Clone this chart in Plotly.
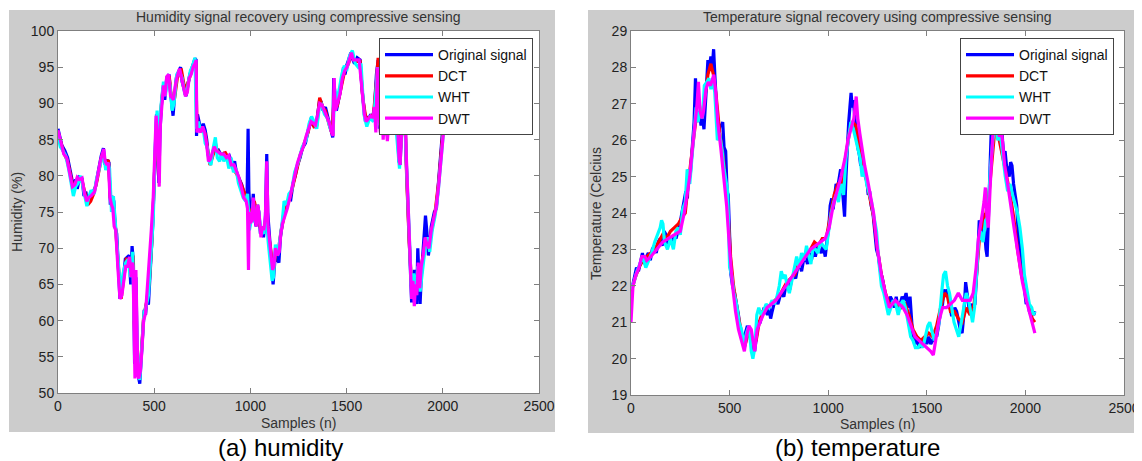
import plotly.graph_objects as go

# ---------------- Humidity data ----------------
hum_orig_x = [0,10,20,35,50,65,80,92,100,112,125,135,145,152,165,180,195,205,215,225,236,245,255,265,272,280,290,297,305,315,322,330,340,350,360,370,378,385,392,398,405,412,420,425,432,440,448,455,462,470,478,485,492,500,506,512,518,524,530,538,548,555,565,577,585,592,598,606,615,625,637,645,655,665,675,685,695,705,712,718,720,725,735,745,755,765,773,780,790,800,810,818,825,835,845,855,865,878,890,900,910,918,925,935,945,955,965,975,982,988,992,1000,1008,1015,1022,1030,1037,1044,1052,1060,1068,1078,1085,1090,1097,1105,1112,1118,1125,1132,1140,1148,1156,1163,1172,1182,1191,1200,1210,1222,1233,1245,1258,1270,1286,1298,1308,1316,1325,1335,1343,1352,1360,1368,1378,1390,1400,1409,1418,1428,1433,1440,1447,1456,1466,1475,1484,1492,1500,1510,1522,1530,1541,1555,1570,1580,1590,1598,1608,1617,1625,1635,1645,1655,1664,1670,1675,1682,1690,1697,1705,1712,1718,1725,1735,1745,1755,1765,1772,1778,1785,1793,1802,1810,1818,1825,1832,1838,1845,1852,1858,1864,1870,1876,1882,1888,1895,1902,1910,1918,1925,1932,1940,1948,1956,1967,1975,1982,1992,2001,2010,2020,2030,2040,2048]
hum_orig_y = [86.5,85.5,84.2,83.5,82.5,80.5,78.5,79.5,78.2,79.8,79.6,77.2,77.8,76.3,77.3,77.6,78.5,80.0,81.5,82.8,83.8,81.5,82.2,81.8,76.0,77.2,76.5,73.0,72.0,67.0,63.0,64.5,66.0,68.5,68.7,69.0,65.0,70.3,68.0,54.0,66.0,55.0,52.0,51.3,54.5,58.5,61.5,60.8,63.0,62.2,66.0,70.0,73.0,79.0,85.0,88.5,84.0,79.0,86.0,90.0,92.5,90.5,93.5,94.0,91.5,89.5,88.3,91.0,93.5,94.3,95.0,93.0,92.0,91.0,92.5,94.0,94.8,95.5,96.2,96.0,85.5,88.5,87.0,86.0,87.2,86.3,85.0,83.0,81.8,82.5,83.8,84.6,83.2,83.5,83.0,82.8,83.2,82.5,82.8,82.0,81.3,82.0,80.8,80.0,79.5,78.8,77.8,77.0,76.2,86.5,78.0,73.5,75.0,77.5,74.0,73.0,76.0,75.0,72.0,73.0,71.5,74.0,83.0,75.0,72.0,69.0,67.0,65.0,68.0,70.0,68.5,68.0,71.5,73.0,74.5,75.0,75.8,77.0,76.8,79.0,80.0,81.5,82.5,83.8,84.5,86.0,87.0,88.0,87.0,86.8,87.2,89.0,90.5,90.2,89.0,89.5,88.3,87.5,86.5,85.3,93.5,89.5,89.0,90.0,91.5,93.0,95.0,94.0,95.2,96.0,97.0,96.2,95.5,96.3,96.0,92.0,89.0,87.5,88.2,87.8,88.5,88.0,89.5,94.0,96.0,86.5,90.0,88.0,86.0,88.5,89.0,85.5,87.0,90.0,89.0,90.5,90.0,86.0,82.0,81.5,86.0,88.0,90.0,82.0,76.0,72.0,66.0,62.5,65.0,67.0,63.5,62.3,70.0,66.0,62.3,66.0,69.0,71.0,74.5,72.0,69.0,70.5,73.0,74.0,75.0,75.5,78.0,80.0,84.0,87.0,87.5,88.5,88.0,87.2,87.0]

hum_dct_x = [0,15,30,50,70,82,95,110,125,140,155,170,185,200,215,230,240,250,262,272,285,300,318,328,340,355,372,382,390,400,410,422,432,445,460,475,488,500,510,520,530,545,560,578,592,605,620,640,660,680,700,716,722,735,750,765,780,790,805,820,835,850,870,890,910,930,950,970,985,995,1010,1020,1035,1050,1065,1080,1090,1105,1118,1130,1145,1160,1180,1200,1220,1240,1260,1280,1300,1315,1330,1345,1360,1375,1390,1410,1425,1435,1450,1470,1490,1510,1525,1545,1570,1585,1600,1620,1640,1655,1664,1672,1690,1710,1730,1750,1765,1778,1790,1802,1812,1825,1840,1855,1868,1880,1895,1910,1925,1940,1960,1980,2000,2015,2030,2048]
hum_dct_y = [86.0,84.5,83.2,82.0,79.5,78.0,79.2,79.5,79.3,77.5,76.0,76.5,77.5,79.0,81.0,83.0,82.5,81.5,82.2,77.0,76.5,72.5,66.0,63.0,65.5,68.5,68.5,67.5,69.0,56.0,53.0,52.5,55.0,60.5,62.5,65.5,71.0,78.5,86.0,82.0,87.5,92.0,92.5,93.8,90.0,90.5,93.5,94.8,91.8,93.2,95.0,95.5,87.0,86.8,86.5,85.8,83.0,81.5,82.8,84.0,83.2,83.0,83.2,82.3,81.0,80.2,79.0,77.5,76.5,74.5,75.5,76.5,74.5,73.0,72.5,73.0,72.5,70.0,66.5,69.0,69.5,72.5,75.0,76.5,78.5,81.0,83.0,84.5,86.0,87.8,86.8,87.0,90.8,89.5,89.0,87.0,85.8,91.0,89.5,92.0,94.5,95.5,96.8,95.8,95.8,90.5,88.0,88.0,88.5,93.0,96.3,88.0,87.5,87.0,89.0,90.0,87.0,83.0,87.0,89.5,80.0,71.0,64.0,66.0,64.5,66.0,68.5,71.0,70.0,72.0,75.0,79.5,86.0,87.5,88.0,87.3]

hum_wht_x = [0,12,25,40,55,68,80,92,105,118,130,140,150,160,172,188,200,215,228,238,248,258,268,278,288,298,312,325,338,352,365,375,388,396,405,415,425,435,447,458,470,482,495,505,515,525,535,548,558,570,582,593,603,617,630,645,660,672,688,700,712,720,730,742,755,765,775,785,795,808,818,828,840,850,862,875,888,900,912,925,938,950,962,975,985,995,1005,1015,1025,1040,1055,1070,1082,1092,1103,1113,1120,1130,1142,1152,1165,1175,1188,1200,1215,1230,1250,1270,1290,1305,1318,1330,1345,1358,1370,1385,1400,1415,1430,1438,1450,1462,1475,1488,1500,1515,1530,1545,1560,1575,1590,1605,1620,1640,1650,1662,1672,1685,1700,1715,1730,1748,1762,1775,1788,1800,1812,1825,1836,1848,1858,1870,1882,1895,1908,1920,1932,1945,1960,1975,1990,2005,2020,2035,2048]
hum_wht_y = [85.5,84.0,83.5,82.8,81.0,79.0,77.2,78.5,79.0,80.0,78.5,77.0,75.8,77.0,78.0,77.5,79.5,81.0,82.5,83.0,80.8,81.8,81.0,75.0,77.2,73.5,68.0,64.0,66.5,68.0,68.5,66.0,69.5,60.0,62.0,54.0,51.8,56.0,61.0,62.0,63.5,68.5,74.0,84.0,89.0,85.0,89.5,93.0,91.0,93.8,92.5,89.0,90.0,94.0,94.5,93.5,91.2,92.0,94.5,95.2,96.3,86.5,87.5,86.0,86.5,84.5,84.0,82.0,81.5,84.0,85.3,82.5,82.0,83.2,82.0,82.8,81.0,82.5,80.5,81.0,79.0,78.0,77.0,76.5,77.5,72.5,74.0,76.5,73.5,75.5,72.5,72.0,75.5,71.0,68.0,65.5,66.0,70.5,69.0,71.0,73.5,76.5,76.0,77.5,78.0,80.5,82.0,84.0,85.0,87.2,88.2,87.5,86.5,89.5,89.8,88.5,88.0,86.5,86.0,92.0,90.5,92.0,94.0,95.2,94.5,96.5,97.3,95.5,95.0,95.5,88.5,86.8,88.0,87.5,91.0,95.0,87.0,89.0,87.0,86.0,88.5,89.5,85.0,81.0,87.0,89.0,81.0,73.0,65.0,66.5,64.0,67.5,64.0,67.0,70.0,71.5,69.5,72.5,74.5,77.5,82.0,86.5,88.8,88.3,87.5]

hum_dwt_x = [0,15,30,45,60,75,88,100,112,125,138,150,160,175,190,205,220,232,238,245,255,262,270,278,285,292,300,312,322,332,342,352,362,372,380,385,390,395,400,405,410,415,420,428,435,445,455,465,475,485,495,502,510,518,526,532,540,548,556,565,575,585,592,600,610,620,632,642,652,662,672,682,692,702,712,718,722,730,742,752,762,772,782,792,800,812,822,835,848,862,875,888,900,915,928,940,952,965,978,985,990,994,1000,1008,1015,1020,1030,1038,1046,1055,1062,1070,1078,1085,1092,1100,1108,1115,1122,1130,1140,1150,1158,1168,1180,1192,1205,1218,1230,1245,1260,1275,1290,1303,1315,1325,1338,1350,1360,1372,1385,1398,1410,1422,1430,1435,1442,1452,1465,1478,1490,1502,1515,1525,1535,1548,1565,1578,1592,1602,1615,1625,1638,1645,1652,1660,1668,1675,1683,1690,1698,1706,1712,1720,1730,1742,1755,1765,1772,1778,1785,1795,1802,1810,1818,1825,1832,1838,1845,1852,1858,1865,1872,1880,1888,1898,1908,1918,1928,1940,1952,1965,1978,1990,2000,2010,2020,2030,2040,2048]
hum_dwt_y = [86.3,84.8,83.0,82.5,80.5,78.5,78.8,79.8,79.5,79.7,77.5,76.5,77.0,77.3,77.8,80.0,82.0,83.2,83.7,82.0,81.5,81.8,77.0,76.0,75.5,73.0,72.5,67.0,63.0,63.5,66.0,67.5,67.5,68.8,66.0,68.0,67.5,58.0,52.0,67.0,60.0,52.5,52.0,53.0,55.5,60.0,61.0,64.5,68.0,72.5,77.0,84.0,88.3,85.0,78.5,87.0,90.5,92.5,91.0,93.7,94.0,91.0,90.8,90.5,92.5,93.8,94.8,93.5,92.5,91.0,91.5,93.5,94.0,95.0,95.5,96.0,86.0,86.5,86.0,86.8,86.0,84.5,82.0,82.3,83.0,84.0,83.5,83.3,83.0,83.0,82.5,82.8,81.5,81.5,80.5,79.8,78.5,77.0,76.5,75.5,67.0,75.0,73.5,73.8,77.0,75.0,73.0,76.0,74.5,71.5,73.0,72.5,74.5,82.0,73.0,71.0,69.5,67.0,67.5,70.0,69.0,69.5,72.0,73.5,74.5,75.5,77.0,78.5,80.0,81.8,83.0,84.0,85.5,86.5,87.5,87.3,87.0,88.5,90.0,89.8,89.0,88.0,87.3,86.0,85.5,93.5,89.0,90.0,91.2,93.5,94.5,95.0,96.0,97.0,96.0,96.0,96.0,92.5,88.5,87.5,88.0,88.3,88.0,89.5,86.0,95.0,89.0,86.0,90.0,85.0,89.0,86.0,84.8,88.0,89.0,90.0,90.5,87.0,82.5,81.5,85.5,89.0,90.0,83.0,77.0,72.5,67.0,63.0,65.5,62.0,65.0,63.5,68.0,64.5,67.5,69.0,71.5,70.5,70.0,72.5,74.0,75.5,78.5,82.5,85.0,87.5,88.5,88.0,87.3,86.8]

# ---------------- Temperature data ----------------
tmp_orig_x = [0,8,18,28,38,48,58,68,78,88,98,108,118,128,138,148,158,168,178,188,198,208,218,228,238,248,258,268,278,286,292,300,308,314,320,327,333,341,348,355,362,370,377,383,390,397,405,412,419,425,430,436,443,450,458,465,472,480,487,493,500,507,515,525,535,545,555,563,572,580,590,600,608,617,627,637,645,655,665,675,683,692,700,708,716,725,735,745,755,765,775,785,795,805,815,825,835,845,855,865,875,885,895,905,915,925,935,945,955,965,975,985,995,1003,1010,1018,1025,1033,1040,1048,1055,1063,1070,1077,1083,1090,1098,1104,1110,1116,1122,1128,1135,1142,1150,1158,1165,1172,1180,1188,1196,1203,1210,1218,1227,1235,1245,1255,1265,1275,1285,1295,1305,1315,1325,1335,1345,1355,1365,1375,1385,1395,1405,1415,1425,1432,1440,1450,1460,1470,1480,1490,1500,1510,1520,1530,1540,1550,1560,1570,1580,1587,1595,1605,1615,1625,1633,1642,1651,1660,1670,1679,1688,1697,1705,1716,1725,1735,1744,1752,1760,1766,1772,1780,1787,1793,1800,1806,1812,1818,1824,1830,1836,1842,1848,1854,1860,1866,1872,1878,1884,1890,1897,1904,1911,1918,1925,1932,1940,1948,1956,1964,1972,1980,1988,1996,2004,2012,2020,2028,2036,2042,2048]
tmp_orig_y = [21.8,22.0,22.3,22.5,22.4,22.7,22.9,22.6,22.8,22.9,22.7,23.0,23.1,22.9,23.2,23.3,23.1,23.5,23.4,23.1,23.3,23.2,23.4,23.3,23.5,23.7,24.0,24.3,24.6,24.4,25.2,25.0,25.6,26.0,26.5,27.7,26.8,26.5,26.8,26.4,26.7,26.3,27.0,27.5,28.2,28.0,28.3,28.0,28.5,27.8,27.3,26.9,26.0,26.4,26.4,26.5,25.8,25.7,24.6,24.5,23.5,22.3,22.0,21.8,21.5,21.2,20.7,20.5,20.6,20.7,20.9,20.8,20.5,20.3,20.2,20.6,21.0,21.0,21.2,21.4,21.3,21.2,21.4,21.1,21.3,21.5,21.6,21.5,21.7,21.8,21.7,22.0,22.1,21.9,22.2,22.3,22.2,22.5,22.6,22.4,22.7,22.8,22.6,22.9,22.7,23.0,22.8,23.1,23.0,22.9,23.1,22.8,23.3,23.6,24.2,24.4,24.1,24.6,24.8,24.7,25.0,25.2,24.8,24.3,23.9,25.0,26.0,26.5,26.9,27.3,26.9,27.1,26.6,26.2,25.8,25.6,25.3,25.5,25.2,25.0,24.9,24.5,24.6,24.2,24.0,23.5,23.0,22.8,22.4,22.2,21.9,21.6,21.5,21.7,21.6,21.4,21.7,21.3,21.5,21.7,21.6,21.8,21.4,21.7,20.9,20.5,20.4,20.6,20.3,20.4,20.5,20.6,20.4,20.6,20.4,20.5,20.7,20.6,20.9,21.3,21.5,21.9,21.7,21.9,21.5,21.2,21.2,21.4,21.3,21.0,20.8,20.7,21.2,22.1,21.7,21.3,21.5,21.4,21.5,22.2,23.0,23.8,23.6,23.3,24.0,23.5,23.0,22.8,24.0,25.0,26.0,26.8,27.5,28.2,28.0,27.3,26.7,26.2,26.4,26.6,26.0,25.6,25.7,25.3,25.2,25.0,25.4,25.3,24.8,24.5,24.2,23.4,23.0,22.6,22.2,21.7,21.5,21.6,21.3,21.2,21.3,21.2,21.3]

tmp_dct_x = [0,20,40,60,80,100,120,140,160,180,200,220,240,260,275,290,305,318,330,345,360,375,390,405,418,432,450,470,490,505,520,540,560,575,590,605,620,635,650,670,690,710,730,750,770,790,810,830,850,870,890,910,930,950,970,990,1010,1030,1050,1065,1080,1095,1110,1125,1140,1155,1170,1190,1210,1230,1250,1270,1290,1310,1330,1350,1370,1390,1410,1430,1450,1470,1490,1510,1530,1550,1570,1590,1605,1620,1640,1660,1680,1700,1720,1740,1755,1770,1785,1800,1815,1830,1845,1860,1875,1890,1905,1920,1940,1960,1980,2000,2020,2035,2048]
tmp_dct_y = [21.8,22.2,22.5,22.7,22.8,22.9,23.0,23.2,23.4,23.3,23.5,23.6,23.7,23.9,24.0,24.8,25.5,26.2,26.6,26.7,26.7,27.2,27.8,28.1,27.8,27.2,26.2,25.4,24.2,22.8,22.0,21.3,20.7,20.3,20.6,20.7,20.4,20.5,21.0,21.3,21.4,21.5,21.6,21.7,21.9,22.1,22.2,22.3,22.6,22.8,22.9,23.0,23.2,23.1,23.3,23.3,23.9,24.5,24.8,24.8,25.2,25.8,26.3,26.5,26.4,26.0,25.4,25.0,24.5,23.9,23.0,22.3,21.8,21.5,21.5,21.5,21.4,21.5,21.2,20.8,20.6,20.5,20.6,20.7,20.6,20.9,21.4,21.8,21.7,21.3,21.3,21.1,21.0,21.4,21.2,21.5,22.5,23.5,23.7,24.0,24.5,25.5,26.3,26.2,25.8,25.3,25.0,24.6,23.9,23.0,22.3,21.8,21.4,21.1,21.0]

tmp_wht_x = [0,15,30,45,60,75,90,105,120,135,148,155,162,170,185,200,215,228,240,250,262,275,285,298,310,320,330,340,350,362,372,385,395,405,415,425,438,448,460,472,482,490,500,510,522,535,548,560,572,585,598,610,618,628,638,648,660,672,685,700,715,728,740,752,762,772,782,792,803,815,828,840,852,865,878,890,902,912,922,935,948,960,975,990,1002,1015,1028,1040,1052,1065,1078,1090,1102,1115,1128,1140,1152,1162,1172,1182,1195,1208,1220,1232,1245,1258,1270,1282,1295,1305,1318,1330,1342,1355,1368,1380,1392,1405,1418,1430,1442,1455,1468,1480,1492,1505,1515,1525,1538,1550,1562,1575,1585,1595,1605,1615,1625,1638,1650,1662,1675,1688,1700,1712,1722,1732,1742,1752,1762,1772,1785,1798,1810,1822,1835,1848,1860,1872,1885,1898,1910,1922,1935,1948,1960,1972,1985,1995,2008,2020,2032,2040,2048]
tmp_wht_y = [21.9,22.1,22.4,22.6,22.8,22.5,22.7,22.9,23.2,23.4,23.6,23.8,23.7,23.2,23.0,23.3,23.0,23.5,23.6,23.4,24.1,24.3,25.2,24.8,25.5,26.3,26.9,26.5,26.8,26.6,27.5,27.6,27.7,27.4,27.7,27.3,26.0,26.2,25.8,25.2,24.8,24.6,22.5,22.3,21.8,21.5,21.0,20.8,20.4,20.7,20.9,20.2,20.0,20.3,21.2,21.4,21.2,21.3,21.5,21.4,21.6,21.5,21.7,22.0,22.4,22.2,22.3,22.0,21.8,22.1,22.4,22.8,22.5,22.9,22.7,23.1,22.8,22.6,23.0,23.0,22.9,23.2,23.1,23.0,23.5,24.0,24.3,24.5,24.3,24.8,24.5,25.5,26.0,26.5,26.3,26.0,25.7,25.5,25.0,25.3,24.8,24.5,24.3,23.9,23.5,22.6,22.0,21.8,21.4,21.2,21.4,21.6,21.5,21.2,21.5,21.6,21.4,21.0,20.6,20.5,20.3,20.3,20.4,20.3,20.6,20.9,21.0,20.8,20.5,20.7,21.0,21.8,22.3,22.4,22.0,21.8,21.5,21.0,20.8,20.6,21.0,21.4,21.8,21.6,21.3,21.0,21.4,22.3,23.2,23.5,23.2,23.8,23.9,25.2,26.0,26.5,26.0,26.2,25.5,25.0,24.6,24.8,24.5,24.2,24.0,23.6,23.0,22.3,21.9,21.5,21.4,21.2,21.3]

tmp_dwt_x = [0,10,25,40,55,70,80,100,130,160,190,220,250,270,285,298,312,325,335,342,350,360,368,380,392,403,412,420,430,440,455,470,485,500,515,530,545,560,575,585,598,610,620,627,640,655,670,690,710,735,760,785,810,835,860,885,910,935,960,985,1005,1025,1045,1065,1085,1100,1115,1130,1142,1150,1160,1170,1185,1200,1215,1230,1250,1270,1290,1310,1325,1340,1360,1380,1400,1420,1440,1460,1480,1500,1520,1533,1545,1560,1580,1600,1620,1640,1660,1680,1700,1720,1735,1750,1762,1772,1782,1790,1797,1805,1812,1822,1833,1845,1855,1868,1880,1895,1910,1925,1945,1965,1985,2005,2025,2040,2048]
tmp_dwt_y = [21.0,22.0,22.3,22.5,22.8,22.8,22.7,22.8,23.0,23.2,23.3,23.4,23.5,24.0,24.5,25.0,25.8,26.5,27.0,27.6,26.8,26.6,26.8,27.4,27.6,27.5,27.7,27.8,27.3,26.5,25.8,25.0,24.2,23.0,22.0,21.3,20.8,20.5,20.2,20.6,20.9,20.8,20.5,20.2,20.8,21.0,21.2,21.4,21.5,21.6,21.8,22.0,22.2,22.4,22.6,22.8,23.0,23.1,23.2,23.3,23.6,24.2,24.6,25.0,25.5,26.0,26.3,26.6,27.2,26.6,26.2,25.8,25.3,24.9,24.5,24.0,23.0,22.3,21.8,21.4,21.5,21.6,21.5,21.4,21.2,20.9,20.6,20.5,20.4,20.3,20.2,20.1,20.5,21.0,21.4,21.4,21.5,21.6,21.8,21.6,21.6,21.6,21.8,22.5,23.3,23.6,24.0,24.3,24.7,23.9,23.6,24.8,26.0,26.8,26.5,26.1,26.2,25.3,24.8,24.2,23.5,22.8,22.1,21.6,21.2,20.9,20.7]

series_names = ["Original signal", "DCT", "WHT", "DWT"]
series_colors = ["#0000ff", "#ff0000", "#00ffff", "#ff00ff"]

# The page places the figure 8 px in from the top-left corner of the window,
# so the figure is sized and positioned to land on the 1142x461 frame.
OFF = 8
W, H = 1142 - OFF, 461 - OFF
def px(x):
    return (x - OFF) / W
def py(y):
    return 1 - (y - OFF) / H

FONT = "Liberation Sans, Arial, Helvetica, sans-serif"

fig = go.Figure()

hum = [(hum_orig_x, hum_orig_y), (hum_dct_x, hum_dct_y), (hum_wht_x, hum_wht_y), (hum_dwt_x, hum_dwt_y)]
tmp = [(tmp_orig_x, tmp_orig_y), (tmp_dct_x, tmp_dct_y), (tmp_wht_x, tmp_wht_y), (tmp_dwt_x, tmp_dwt_y)]

for (xs, ys), name, col in zip(hum, series_names, series_colors):
    fig.add_trace(go.Scatter(x=xs, y=ys, mode="lines", name=name,
                             line=dict(color=col, width=3.2),
                             xaxis="x", yaxis="y", legend="legend"))
for (xs, ys), name, col in zip(tmp, series_names, series_colors):
    fig.add_trace(go.Scatter(x=xs, y=ys, mode="lines", name=name,
                             line=dict(color=col, width=3.2),
                             xaxis="x2", yaxis="y2", legend="legend2"))

axis_common = dict(
    showgrid=False, zeroline=False, showline=True, linecolor="#7f7f7f", linewidth=1,
    mirror="ticks", ticks="inside", ticklen=5, tickcolor="#7f7f7f", automargin=False,
    tickfont=dict(family=FONT, size=14, color="#222222"),
)

legend_common = dict(
    xanchor="left", yanchor="top", bgcolor="white", bordercolor="#444444", borderwidth=1,
    font=dict(family=FONT, size=14, color="#111111"), tracegroupgap=0, itemwidth=48,
)

gray = "#cccccc"
shapes = [
    dict(type="rect", xref="paper", yref="paper", x0=px(9), x1=px(555), y0=py(432), y1=py(10),
         fillcolor=gray, line=dict(width=0), layer="below"),
    dict(type="rect", xref="paper", yref="paper", x0=px(588), x1=1.0, y0=py(433), y1=py(10),
         fillcolor=gray, line=dict(width=0), layer="below"),
    dict(type="rect", xref="paper", yref="paper", x0=px(58), x1=px(539), y0=py(393), y1=py(31),
         fillcolor="white", line=dict(width=0), layer="below"),
    dict(type="rect", xref="paper", yref="paper", x0=px(631), x1=px(1124), y0=py(395), y1=py(31),
         fillcolor="white", line=dict(width=0), layer="below"),
]

def ann(text, x, y, size, color="#333333", angle=0):
    return dict(text=text, x=px(x), y=py(y), xref="paper", yref="paper", showarrow=False,
                xanchor="center", yanchor="middle", textangle=angle,
                font=dict(family=FONT, size=size, color=color))

annotations = [
    ann("Humidity signal recovery using compressive sensing", 298, 17, 14),
    ann("Temperature signal recovery using compressive sensing", 877, 17, 14),
    ann("Samples (n)", 298, 423, 14),
    ann("Samples (n)", 877, 424, 14),
    ann("Humidity (%)", 17, 212, 14, angle=-90),
    ann("Temperature (Celcius", 596, 214, 14, angle=-90),
    ann("(a) humidity", 280, 447, 24, color="#000000"),
    ann("(b) temperature", 857, 447, 24, color="#000000"),
]

fig.update_layout(
    width=W, height=H, autosize=False,
    margin=dict(l=0, r=0, t=0, b=0, pad=0, autoexpand=False),
    paper_bgcolor="white", plot_bgcolor="white",
    showlegend=True,
    xaxis=dict(domain=[px(58), px(539)], range=[0, 2500], tickvals=[0, 500, 1000, 1500, 2000, 2500],
               anchor="y", **axis_common),
    yaxis=dict(domain=[py(393), py(31)], range=[50, 100], tickvals=list(range(50, 101, 5)),
               anchor="x", **axis_common),
    xaxis2=dict(domain=[px(631), px(1124)], range=[0, 2500], tickvals=[0, 500, 1000, 1500, 2000, 2500],
                anchor="y2", **axis_common),
    yaxis2=dict(domain=[py(395), py(31)], range=[19, 29], tickvals=list(range(19, 30)),
                anchor="x2", **axis_common),
    legend=dict(x=px(379), y=py(38), **legend_common),
    legend2=dict(x=px(960), y=py(38), **legend_common),
    shapes=shapes,
    annotations=annotations,
)

fig.write_html("out.html")
